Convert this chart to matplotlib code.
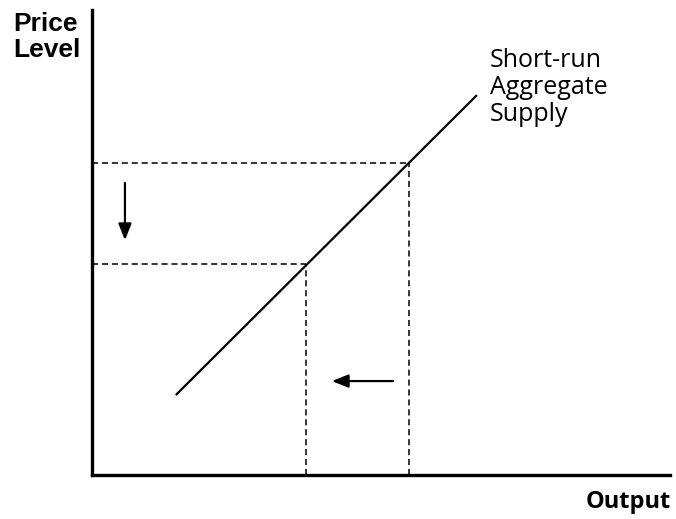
import matplotlib.pyplot as plt

# short-run aggregate supply line (data units 0-10)
sras_x = [1.45, 6.66]
sras_y = [1.72, 8.17]

# the two equilibria: price level and output
price_levels = [6.71, 4.54]
outputs = [5.48, 3.70]

# arrows (start -> end)
down_arrow = [(0.57, 6.28), (0.57, 5.05)]
left_arrow = [(5.21, 2.02), (4.15, 2.02)]

fig = plt.figure(figsize=(6.76, 5.19), dpi=100)
ax = fig.add_axes([92/676, 44/519, 578/676, 465/519])
ax.set_xlim(0, 10)
ax.set_ylim(0, 10)

ax.plot(sras_x, sras_y, color='black', lw=1.6, solid_capstyle='butt')

for p, q in zip(price_levels, outputs):
    ax.plot([0, q], [p, p], color='black', lw=1.1, ls=(0, (4, 2.5)))
    ax.plot([q, q], [0, p], color='black', lw=1.1, ls=(0, (4, 2.5)))

for (x0, y0), (x1, y1) in [down_arrow, left_arrow]:
    ax.annotate('', xy=(x1, y1), xytext=(x0, y0),
                arrowprops=dict(arrowstyle='-|>,head_length=0.55,head_width=0.22',
                                color='black', lw=1.6,
                                mutation_scale=18, shrinkA=0, shrinkB=0))

for side in ['top', 'right']:
    ax.spines[side].set_visible(False)
for side in ['left', 'bottom']:
    ax.spines[side].set_linewidth(2.4)
ax.set_xticks([])
ax.set_yticks([])

fig.text(13/676, 1 - 31/519, 'Price', ha='left', va='baseline', fontsize=19,
         fontweight='bold', family='Liberation Sans')
fig.text(13/676, 1 - 57/519, 'Level', ha='left', va='baseline', fontsize=19,
         fontweight='bold', family='Liberation Sans')
fig.text(671/676, 1 - 508/519, 'Output', ha='right', va='baseline', fontsize=17,
         fontweight='bold', family='Open Sans')
for i, s in enumerate(['Short-run', 'Aggregate', 'Supply']):
    fig.text(490/676, 1 - (67 + 27*i)/519, s, ha='left', va='baseline',
             fontsize=18, family='Open Sans')

fig.savefig('out.png', dpi=100)
